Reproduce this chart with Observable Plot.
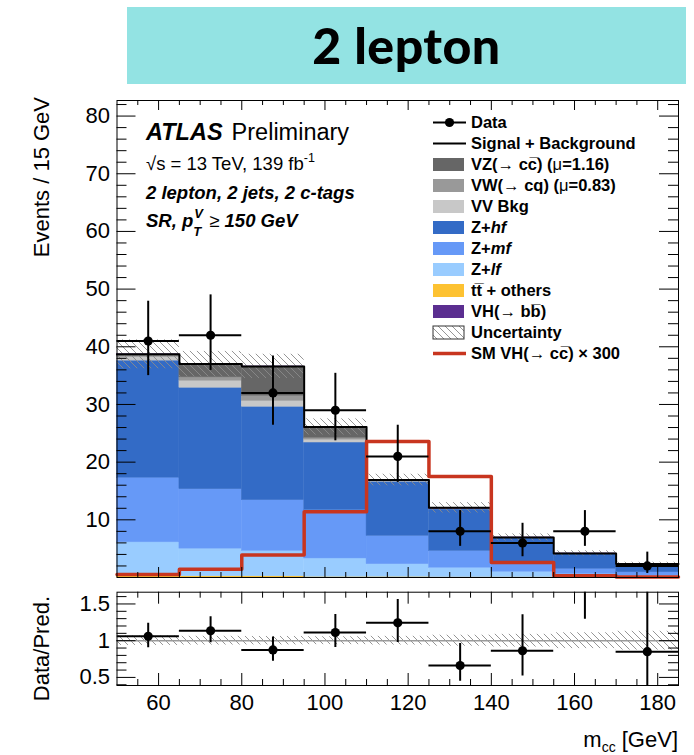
<!DOCTYPE html>
<html><head><meta charset="utf-8">
<script src="https://cdn.jsdelivr.net/npm/d3@7"></script>
<script src="https://cdn.jsdelivr.net/npm/@observablehq/plot@0.6"></script>
<style>
body{margin:0;background:#fff;font-family:"Liberation Sans",Arial,sans-serif;}
#wrap{position:relative;width:694px;height:755px;overflow:hidden;background:#fff}
#banner{position:absolute;left:127px;top:7px;width:559px;height:77px;background:#93e3e3;display:flex;align-items:center;justify-content:center;font-family:Lato,"Open Sans",sans-serif;font-weight:900;font-size:50px;letter-spacing:0.5px;color:#000;padding-bottom:2px;box-sizing:border-box}
#main{position:absolute;left:0;top:0}
#ratio{position:absolute;left:0;top:580px}
</style></head>
<body><div id="wrap"><div id="main"></div><div id="ratio"></div><div id="banner">2 lepton</div></div>
<script>
// ---------------- data ----------------
const binEdges = [50, 65, 80, 95, 110, 125, 140, 155, 170, 185];
const data    = [41, 42, 32, 29, 21, 8, 6, 8, 2];
const dataLo  = [35.0, 35.9, 26.4, 23.7, 16.5, 5.4, 3.6, 5.4, 0.7];
const dataHi  = [47.9, 49.0, 38.4, 35.4, 26.4, 11.6, 9.4, 11.6, 4.4];
const ttbar   = [0.3, 0.2, 0.2, 0.1, 0.1, 0.05, 0.05, 0.03, 0.02];
const zlf     = [5.8, 4.8, 4.4, 3.2, 2.2, 1.65, 0.95, 0.57, 0.33];
const zmf     = [11.2, 10.3, 8.8, 8.4, 4.9, 2.9, 1.4, 0.9, 0.55];
const zhf     = [20.3, 17.6, 16.2, 11.7, 9.4, 7.2, 4.4, 2.6, 1.4];
const vvbkg   = [0.6, 1.2, 1.0, 0.5, 0.05, 0.05, 0.03, 0.02, 0.01];
const vw      = [0.2, 0.6, 0.9, 0.3, 0.05, 0.03, 0.02, 0.01, 0.01];
const vz      = [0.2, 2.2, 5.0, 1.7, 0.0, 0.0, 0.0, 0.0, 0.0];
const vhbb    = [0.1, 0.1, 0.1, 0.2, 0.2, 0.2, 0.1, 0.05, 0.03];
const unc     = [2.5, 2.2, 2.1, 1.4, 1.0, 0.9, 0.6, 0.45, 0.3];
const smvh300 = [0.5, 1.45, 3.9, 11.4, 23.6, 17.5, 2.6, 0.3, 0.1];

const xTicks = [60, 80, 100, 120, 140, 160, 180];
const xTickLabels = ["60", "80", "100", "120", "140", "160", "180"];
const yTicks = [10, 20, 30, 40, 50, 60, 70, 80];
const yTickLabels = ["10", "20", "30", "40", "50", "60", "70", "80"];
const rTicks = [0.5, 1, 1.5];
const rTickLabels = ["0.5", "1", "1.5"];

const C = {
  vz: "#666666", vw: "#999999", vv: "#c8c8c8",
  zhf: "#336bc6", zmf: "#6699f7", zlf: "#99ccff",
  tt: "#fdc232", vhbb: "#5b2e90", red: "#c8351f"
};
// stack order bottom -> top
const comps = [
  {vals: ttbar, color: C.tt}, {vals: zlf, color: C.zlf}, {vals: zmf, color: C.zmf},
  {vals: zhf, color: C.zhf}, {vals: vvbkg, color: C.vv}, {vals: vw, color: C.vw},
  {vals: vz, color: C.vz}, {vals: vhbb, color: C.vhbb}
];

const bins = data.map((d, i) => {
  const total = d3.sum(comps, c => c.vals[i]);
  return {lo: binEdges[i], hi: binEdges[i + 1], mid: (binEdges[i] + binEdges[i + 1]) / 2,
    data: d, eLo: dataLo[i], eHi: dataHi[i], total, unc: unc[i],
    ratio: d / total, rLo: dataLo[i] / total, rHi: dataHi[i] / total, rUnc: unc[i] / total};
});
const stackRows = [];
bins.forEach((b, i) => {
  let acc = 0;
  comps.forEach(c => {
    const v = c.vals[i];
    if (v > 0) stackRows.push({lo: b.lo, hi: b.hi, y1: acc, y2: acc + v, fill: c.color});
    acc += v;
  });
});
const steps = vals => binEdges.map((e, i) => ({x: e, y: vals[Math.min(i, vals.length - 1)]}));
const totalSteps = steps(bins.map(b => b.total));
const redSteps = steps(smvh300);

// ---------------- layout ----------------
const FONT = "'Liberation Sans', Arial, Helvetica, sans-serif";
const W = 694, mL = 116.5, mR = 16;
const frameW = W - mL - mR;
const mainH = 590, mT = 100, mB = 13, frameH = mainH - mT - mB;
const rH = 175, rT = 11.7, rB = 70, rFrameH = rH - rT - rB;

const xMinor = d3.range(55, 185, 5).filter(v => v % 20 !== 0);
const yMinor = d3.range(2, 83, 2).filter(v => v % 10 !== 0);
const rMinor = d3.range(0.4, 1.66, 0.1).map(v => +v.toFixed(2)).filter(v => ![0.5, 1, 1.5].includes(v));

function frameTicks(yMaj, yMin, fh, xMajLen, xMinLen, yMajLen, yMinLen) {
  return [
    Plot.tickY(yMaj, {insetRight: frameW - yMajLen, stroke: "black"}),
    Plot.tickY(yMaj, {insetLeft: frameW - yMajLen, stroke: "black"}),
    Plot.tickY(yMin, {insetRight: frameW - yMinLen, stroke: "black"}),
    Plot.tickY(yMin, {insetLeft: frameW - yMinLen, stroke: "black"}),
    Plot.tickX(xTicks, {insetTop: fh - xMajLen, stroke: "black"}),
    Plot.tickX(xTicks, {insetBottom: fh - xMajLen, stroke: "black"}),
    Plot.tickX(xMinor, {insetTop: fh - xMinLen, stroke: "black"}),
    Plot.tickX(xMinor, {insetBottom: fh - xMinLen, stroke: "black"})
  ];
}

const hatchDef = id => `<pattern id="${id}" patternUnits="userSpaceOnUse" width="7" height="7">
  <path d="M-1,-1 L8,8 M-1,6 L1,8 M6,-1 L8,1" stroke="#8a8a8a" stroke-width="0.9"/></pattern>`;

// ---------------- main panel ----------------
const main = Plot.plot({
  width: W, height: mainH, marginLeft: mL, marginRight: mR, marginTop: mT, marginBottom: mB,
  x: {domain: [50, 185], axis: null},
  y: {domain: [0, 82.7], axis: null},
  color: {type: "identity"},
  style: {fontFamily: FONT, fontSize: "22px", background: "transparent", overflow: "visible", color: "black"},
  marks: [
    Plot.rect(stackRows, {x1: "lo", x2: "hi", y1: "y1", y2: "y2", fill: "fill", stroke: "fill", strokeWidth: 0.4}),
    Plot.rect(bins, {x1: "lo", x2: "hi", y1: d => d.total - d.unc, y2: d => d.total + d.unc, fill: "url(#hatchMain)"}),
    Plot.line(totalSteps, {x: "x", y: "y", curve: "step-after", stroke: "black", strokeWidth: 2}),
    Plot.line(redSteps, {x: "x", y: "y", curve: "step-after", stroke: C.red, strokeWidth: 3.5}),
    Plot.ruleX(bins, {x: "mid", y1: "eLo", y2: "eHi", stroke: "black", strokeWidth: 2}),
    Plot.ruleY(bins, {y: "data", x1: "lo", x2: "hi", stroke: "black", strokeWidth: 2}),
    Plot.dot(bins, {x: "mid", y: "data", r: 4.6, fill: "black"}),
    ...frameTicks(yTicks, yMinor, frameH, 10, 5, 19, 10),
    Plot.axisY({ticks: yTicks, tickSize: 0, tickPadding: 7, label: null, fontSize: 22,
      tickFormat: (d, i) => yTickLabels[yTicks.indexOf(d)]}),
    Plot.frame({stroke: "black", strokeWidth: 1})
  ]
});
document.getElementById("main").appendChild(main);

// ---------------- ratio panel ----------------
const ratio = Plot.plot({
  width: W, height: rH, marginLeft: mL, marginRight: mR, marginTop: rT, marginBottom: rB,
  x: {domain: [50, 185], axis: null},
  y: {domain: [0.39, 1.66], axis: null},
  style: {fontFamily: FONT, fontSize: "22px", background: "transparent", overflow: "visible", color: "black"},
  marks: [
    Plot.rect(bins, {x1: "lo", x2: "hi", y1: d => 1 - d.rUnc, y2: d => 1 + d.rUnc, fill: "url(#hatchRatio)"}),
    Plot.ruleY([1], {stroke: "#9a9a9a", strokeWidth: 1.5}),
    Plot.ruleX(bins, {x: "mid", y1: "rLo", y2: "rHi", stroke: "black", strokeWidth: 2, clip: true}),
    Plot.ruleY(bins, {y: "ratio", x1: "lo", x2: "hi", stroke: "black", strokeWidth: 2, clip: true}),
    Plot.dot(bins, {x: "mid", y: "ratio", r: 4.6, fill: "black", clip: true}),
    ...frameTicks(rTicks, rMinor, rFrameH, 12, 6, 19, 10),
    Plot.axisY({ticks: rTicks, tickSize: 0, tickPadding: 7, label: null, fontSize: 22,
      tickFormat: d => rTickLabels[rTicks.indexOf(d)]}),
    Plot.axisX({ticks: xTicks, tickSize: 0, tickPadding: 9, label: null, fontSize: 22,
      tickFormat: d => xTickLabels[xTicks.indexOf(d)]}),
    Plot.frame({stroke: "black", strokeWidth: 1})
  ]
});
document.getElementById("ratio").appendChild(ratio);

d3.select(main).insert("defs", ":first-child").html(hatchDef("hatchMain"));
d3.select(ratio).insert("defs", ":first-child").html(hatchDef("hatchRatio"));

// ---------------- annotations ----------------
const sm = d3.select(main);
const g = sm.append("g").attr("text-anchor", "start").attr("font-family", FONT).attr("fill", "black");
const t = (sel, x, y, txt, opts = {}) => {
  const el = sel.append("text").attr("x", x).attr("y", y)
    .attr("font-size", opts.size || 16).attr("text-anchor", opts.anchor || "start");
  if (opts.bold) el.attr("font-weight", "bold");
  if (opts.italic) el.attr("font-style", "italic");
  if (opts.dy) el.attr("dy", opts.dy);
  el.text(txt);
  return el;
};

// ATLAS label
const atl = g.append("text").attr("x", 146).attr("y", 140).attr("font-size", 23.5);
atl.append("tspan").attr("font-weight", "bold").attr("font-style", "italic").text("ATLAS");
atl.append("tspan").attr("dx", 9).text("Preliminary");

const rs = g.append("text").attr("x", 146).attr("y", 170).attr("font-size", 18.5);
rs.append("tspan").text("\u221As = 13 TeV, 139 fb");
rs.append("tspan").attr("font-size", 12.5).attr("dy", -8).text("-1");

t(g, 146, 199, "2 lepton, 2 jets, 2 c-tags", {size: 18.5, bold: true, italic: true});
const srt = t(g, 146, 227, "SR, p", {size: 18.5, bold: true, italic: true});
const L = srt.node().getComputedTextLength();
t(g, 146 + L + 1, 218, "V", {size: 13, bold: true, italic: true});
t(g, 146 + L + 0, 236, "T", {size: 13, bold: true, italic: true});
const ge = g.append("text").attr("x", 146 + L + 16).attr("y", 227).attr("font-size", 18.5)
  .attr("font-weight", "bold").attr("font-style", "italic");
ge.append("tspan").attr("font-weight", "normal").attr("font-style", "normal").text("\u2265");
ge.append("tspan").text(" 150 GeV");

// Legend
const legendItems = [
  {type: "data", label: [["Data"]]},
  {type: "line", color: "black", w: 2, label: [["Signal + Background"]]},
  {type: "box", color: C.vz, label: [["VZ(\u2192 c"], ["c\u0305"], [") ("], ["\u03bc", "n"], ["=1.16)"]]},
  {type: "box", color: C.vw, label: [["VW(\u2192 cq) ("], ["\u03bc", "n"], ["=0.83)"]]},
  {type: "box", color: C.vv, label: [["VV Bkg"]]},
  {type: "box", color: C.zhf, label: [["Z+"], ["hf", "i"]]},
  {type: "box", color: C.zmf, label: [["Z+"], ["mf", "i"]]},
  {type: "box", color: C.zlf, label: [["Z+"], ["lf", "i"]]},
  {type: "box", color: C.tt, label: [["tt\u0305 + others"]]},
  {type: "box", color: C.vhbb, label: [["VH(\u2192 bb\u0305)"]]},
  {type: "hatch", label: [["Uncertainty"]]},
  {type: "line", color: C.red, w: 3.5, label: [["SM VH(\u2192 cc\u0305) \u00d7 300"]]}
];
const lx0 = 433, lx1 = 464, ltx = 471;
legendItems.forEach((it, i) => {
  const cy = 122.5 + 21 * i;
  if (it.type === "data") {
    g.append("line").attr("x1", lx0).attr("x2", lx1 + 2).attr("y1", cy).attr("y2", cy).attr("stroke", "black").attr("stroke-width", 2);
    g.append("circle").attr("cx", (lx0 + lx1) / 2 + 1).attr("cy", cy).attr("r", 4.6).attr("fill", "black");
  } else if (it.type === "line") {
    g.append("line").attr("x1", lx0).attr("x2", lx1 + 2).attr("y1", cy).attr("y2", cy).attr("stroke", it.color).attr("stroke-width", it.w);
  } else if (it.type === "box") {
    g.append("rect").attr("x", lx0).attr("y", cy - 6.5).attr("width", lx1 - lx0).attr("height", 13).attr("fill", it.color);
  } else {
    g.append("rect").attr("x", lx0).attr("y", cy - 6.5).attr("width", lx1 - lx0).attr("height", 13)
      .attr("fill", "url(#hatchMain)").attr("stroke", "#333").attr("stroke-width", 1);
  }
  const tx = g.append("text").attr("x", ltx).attr("y", cy).attr("dy", "0.36em")
    .attr("font-size", 16.5).attr("font-weight", "bold");
  it.label.forEach(([s, st]) => {
    const ts = tx.append("tspan").text(s);
    if (st === "i") ts.attr("font-style", "italic");
    if (st === "n") ts.attr("font-weight", "normal");
  });
});

// axis titles
g.append("text").attr("transform", "translate(49,97) rotate(-90)").attr("text-anchor", "end")
  .attr("font-size", 22).text("Events / 15 GeV");
const sr = d3.select(ratio).append("g").attr("font-family", FONT).attr("fill", "black");
sr.append("text").attr("transform", "translate(49,16) rotate(-90)").attr("text-anchor", "end")
  .attr("font-size", 22).text("Data/Pred.");
const xt = sr.append("text").attr("x", 678).attr("y", 167).attr("text-anchor", "end").attr("font-size", 22);
xt.append("tspan").text("m");
xt.append("tspan").attr("font-size", 14).attr("dy", 5).text("cc");
xt.append("tspan").attr("dy", -5).text(" [GeV]");
</script></body></html>
